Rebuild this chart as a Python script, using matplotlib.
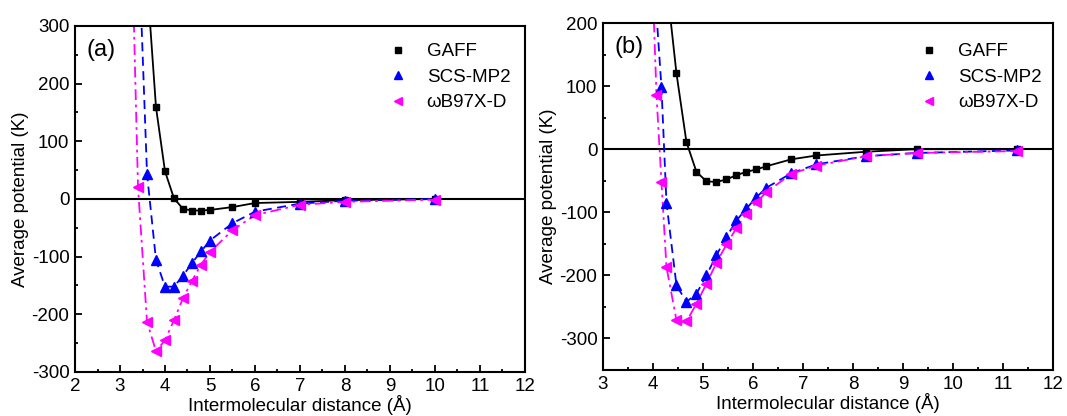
import numpy as np
import matplotlib
matplotlib.use("Agg")
import matplotlib.pyplot as plt
from matplotlib.ticker import MultipleLocator

plt.rcParams['font.family'] = ['Liberation Sans', 'DejaVu Sans']
plt.rcParams['axes.unicode_minus'] = False

# panel (a) data
gaff_a_x = [3.6, 3.8, 4.0, 4.2, 4.4, 4.6, 4.8, 5.0, 5.5, 6.0, 7.0, 8.0, 10.0]
gaff_a_y = [380, 159, 48, 1, -17, -20, -20, -19, -14, -7, -5, -2, 0]
scs_a_x = [3.4, 3.6, 3.8, 4.0, 4.2, 4.4, 4.6, 4.8, 5.0, 5.5, 6.0, 7.0, 8.0, 10.0]
scs_a_y = [470, 44, -106, -152, -152, -133, -111, -91, -72, -42, -22, -8, -3, 0]
wb_a_x = [3.2, 3.4, 3.6, 3.8, 4.0, 4.2, 4.4, 4.6, 4.8, 5.0, 5.5, 6.0, 7.0, 8.0, 10.0]
wb_a_y = [640, 21, -213, -264, -245, -210, -172, -142, -114, -92, -54, -28, -10, -5, -1]

# panel (b) data
gaff_b_x = [4.27, 4.47, 4.67, 4.87, 5.07, 5.27, 5.47, 5.67, 5.87, 6.07, 6.27,
            6.77, 7.27, 8.27, 9.27, 11.27]
gaff_b_y = [265, 120, 11, -36, -51, -52, -48, -41, -36, -32, -27,
            -16, -10, -4, 0, 0]
scs_b_x = [4.07, 4.17, 4.27, 4.47, 4.67, 4.87, 5.07, 5.27, 5.47, 5.67, 5.87,
           6.07, 6.27, 6.77, 7.27, 8.27, 9.27, 11.27]
scs_b_y = [215, 98, -85, -216, -242, -229, -200, -168, -139, -113, -94,
           -76, -61, -38, -24, -11, -6, -2]
wb_b_x = [3.97, 4.07, 4.17, 4.27, 4.47, 4.67, 4.87, 5.07, 5.27, 5.47, 5.67,
          5.87, 6.07, 6.27, 6.77, 7.27, 8.27, 9.27, 11.27]
wb_b_y = [314, 86, -52, -187, -271, -273, -245, -213, -180, -151, -125,
          -102, -84, -68, -39, -26, -11, -6, -3]

labels = ["GAFF", "SCS-MP2", "\u03c9B97X-D"]
fs = 13.5

fig = plt.figure(figsize=(10.67, 4.16), dpi=100)
axA = fig.add_axes([0.0703, 0.1058, 0.4217, 0.8317])
axB = fig.add_axes([0.5651, 0.1106, 0.4218, 0.8341])


def draw(ax, series, xlim, ylim, tag, leg_anchor):
    ax.axhline(0, color='black', lw=1.5, zorder=1)
    styles = [('black', 's', (0, ()), 5),
              ('#0000ff', '^', (0, (5, 3)), 7),
              ('#ff00ff', '<', (0, (6, 2.5, 1.5, 2.5)), 7)]
    for (x, y), (c, m, ls, ms), lab in zip(series, styles, labels):
        ax.plot(x, y, color=c, ls=ls, lw=1.3, zorder=2)
        ax.plot(x, y, color=c, marker=m, ls='none', ms=ms, label=lab, zorder=3)
    ax.set_xlim(*xlim)
    ax.set_ylim(*ylim)
    ax.xaxis.set_major_locator(MultipleLocator(1))
    ax.xaxis.set_minor_locator(MultipleLocator(0.5))
    ax.yaxis.set_major_locator(MultipleLocator(100))
    ax.yaxis.set_minor_locator(MultipleLocator(50))
    ax.tick_params(which='both', direction='in', top=False, right=False,
                   labelsize=fs, width=1.3, pad=4)
    ax.tick_params(which='major', length=5)
    ax.tick_params(which='minor', length=2.5)
    for s in ax.spines.values():
        s.set_linewidth(1.5)
    ax.set_xlabel("Intermolecular distance (\u00c5)", fontsize=fs, labelpad=0)
    ax.set_ylabel("Average potential (K)", fontsize=fs, labelpad=2)
    ax.text(0.025, 0.93, tag, transform=ax.transAxes, fontsize=17, va='center')
    ax.legend(loc='upper left', bbox_to_anchor=leg_anchor, frameon=False,
              fontsize=fs, borderpad=0, borderaxespad=0, handlelength=1,
              handletextpad=1.05, labelspacing=0.45, markerscale=0.75)


draw(axA, [(gaff_a_x, gaff_a_y), (scs_a_x, scs_a_y), (wb_a_x, wb_a_y)],
     (2, 12), (-300, 300), "(a)", (0.696, 0.951))
draw(axB, [(gaff_b_x, gaff_b_y), (scs_b_x, scs_b_y), (wb_b_x, wb_b_y)],
     (3, 12), (-350, 200), "(b)", (0.704, 0.942))

fig.savefig("out.png", dpi=100)
